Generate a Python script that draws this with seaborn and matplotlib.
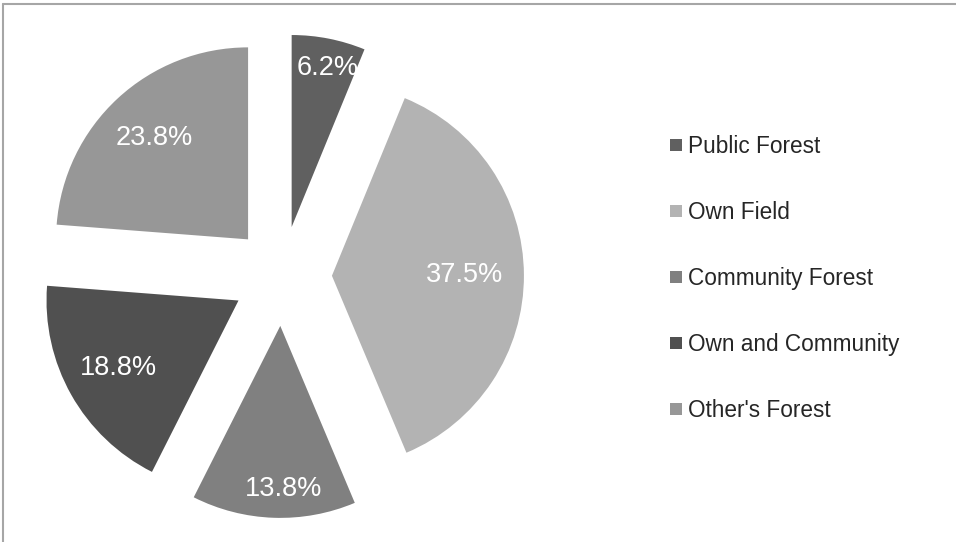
import matplotlib
matplotlib.use("Agg")
import numpy as np
import matplotlib.pyplot as plt
from matplotlib.lines import Line2D
import seaborn as sns

# Share of respondents by source (percent)
categories = ["Public Forest", "Own Field", "Community Forest",
              "Own and Community", "Other's Forest"]
shares = [6.2, 37.5, 13.8, 18.8, 23.8]
value_labels = ["6.2%", "37.5%", "13.8%", "18.8%", "23.8%"]

sns.set_theme(style="white")
plt.rcParams["font.family"] = ["Liberation Sans", "DejaVu Sans"]

colors = sns.color_palette(["#606060", "#b3b3b3", "#808080", "#505050", "#979797"])
# radial position of each value label, as a fraction of the radius,
# plus a small angular nudge (degrees) off the wedge bisector
label_dist = [0.85, 0.69, 0.85, 0.72, 0.72]
label_nudge = [-1.5, 0.0, 3.0, 0.0, 0.0]

W, H = 956, 542
fig = plt.figure(figsize=(W / 100, H / 100), dpi=100)
fig.patch.set_facecolor("white")
ax = fig.add_axes([0, 0, 1, 1])

R = 192
# pie() offsets exploded wedges in data units, so scale by the radius
explode_frac = 0.26
wedges, texts = ax.pie(
    shares, colors=colors, startangle=90, counterclock=False,
    explode=[explode_frac * R] * len(shares), radius=R, center=(282, H - 276),
    labels=value_labels, wedgeprops={"linewidth": 0},
)

for w, t, d, nd in zip(wedges, texts, label_dist, label_nudge):
    th = np.radians((w.theta1 + w.theta2) / 2 + nd)
    cx, cy = w.center
    t.set_position((cx + d * R * np.cos(th), cy + d * R * np.sin(th)))
    t.set_ha("center")
    t.set_va("center")
    t.set_color("white")
    t.set_fontsize(19.5)

ax.set_xlim(0, W)
ax.set_ylim(0, H)
ax.set_aspect("equal")
ax.axis("off")

handles = [Line2D([], [], marker="s", linestyle="none", markersize=8.6,
                  markerfacecolor=c, markeredgewidth=0) for c in colors]
fig.legend(handles, categories, loc="upper left",
           bbox_to_anchor=(669 / W, 1 - 135 / H), frameon=False,
           fontsize=16.3, labelspacing=1.9, handlelength=0.6,
           handletextpad=0.22, borderpad=0, borderaxespad=0)

# chart area outline (top and left edges)
border = "#a6a6a6"
fig.add_artist(Line2D([3 / W, 1], [1 - 4 / H, 1 - 4 / H], color=border, lw=1.5,
                      transform=fig.transFigure))
fig.add_artist(Line2D([3 / W, 3 / W], [0, 1 - 4 / H], color=border, lw=1.5,
                      transform=fig.transFigure))

fig.savefig("out.png", dpi=100)
